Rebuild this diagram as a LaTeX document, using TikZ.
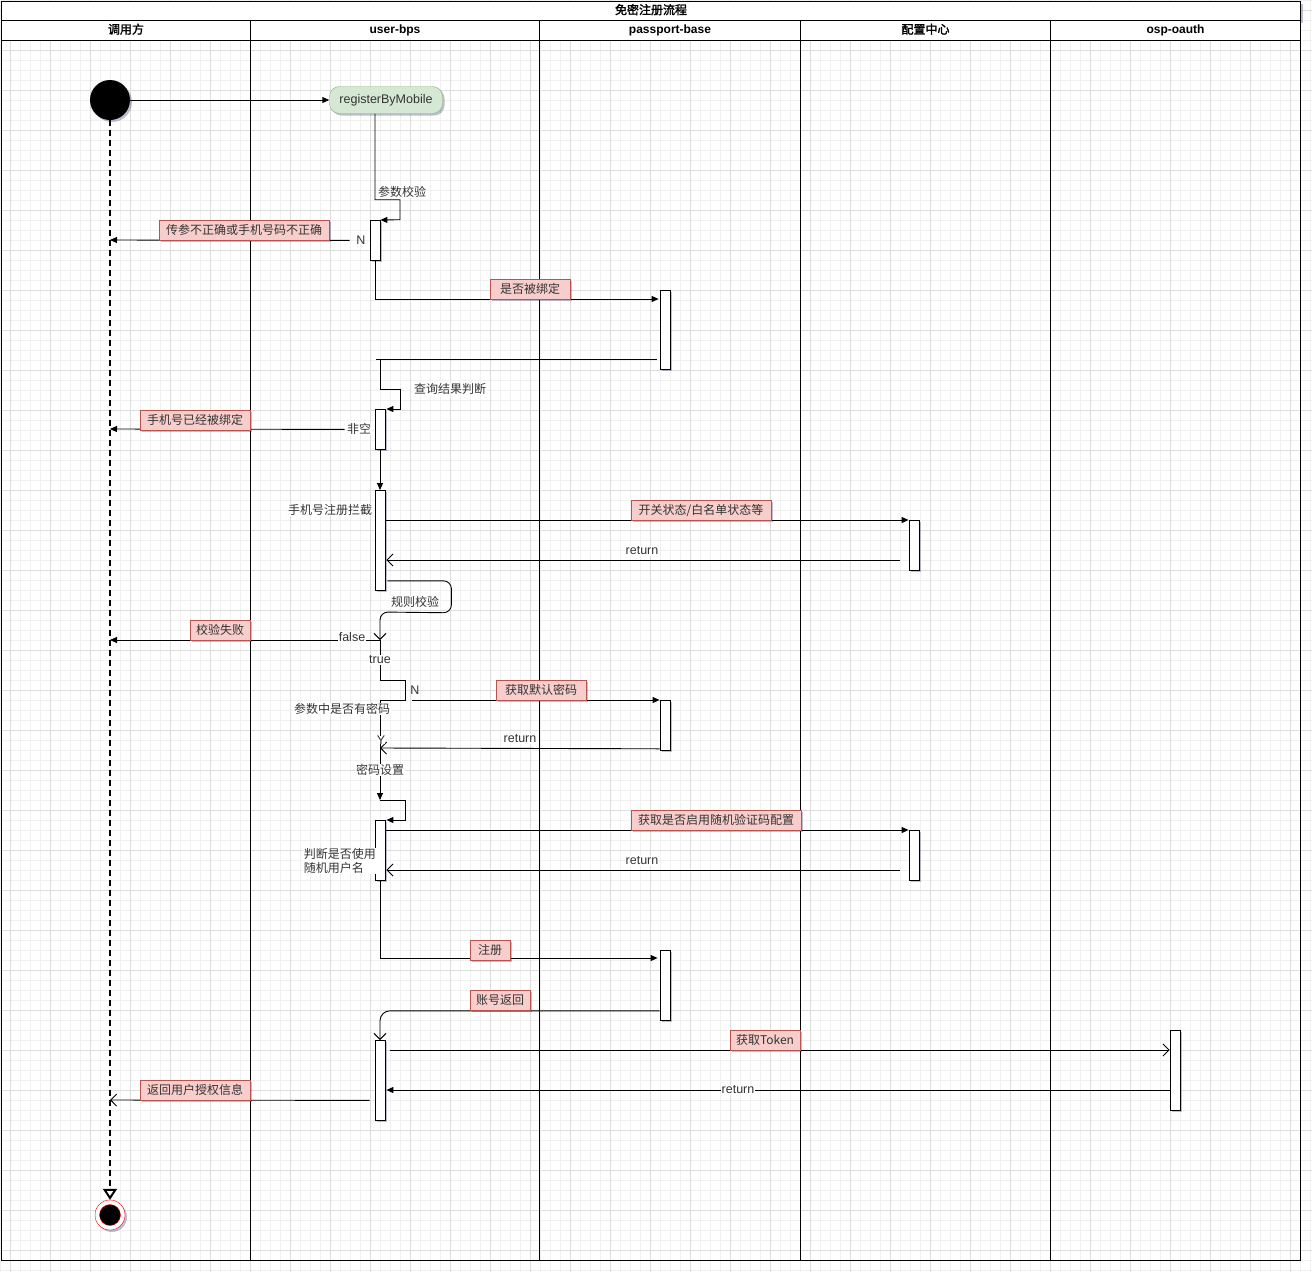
\documentclass[tikz,border=0pt]{standalone}
\usepackage{fontspec}
\setmainfont{Liberation Sans}
\newfontfamily\cjk{Noto Sans CJK SC}[AutoFakeBold=2]
\usepackage{tikz}
\usetikzlibrary{positioning,calc,arrows.meta,shadows}
\definecolor{GridMinor}{HTML}{F0F0F0}
\definecolor{GridMajor}{HTML}{DDDDDD}
\definecolor{ErrFill}{HTML}{F8CECC}
\definecolor{ErrLine}{HTML}{B85450}
\definecolor{OkFill}{HTML}{D5E8D4}
\definecolor{OkLine}{HTML}{82B366}
\definecolor{InkGray}{HTML}{333333}
\definecolor{EndRed}{HTML}{FF0000}
\tikzset{
  shd/.style={drop shadow={shadow xshift=2pt,shadow yshift=-2pt,opacity=0.25,fill=black!70!blue}},
  lane/.style={draw,line width=1pt,inner sep=0pt,anchor=north west},
  lanehd/.style={lane,fill=white,text height=9pt,text depth=2.5pt,font=\bfseries\fontsize{12}{14}\selectfont},
  act/.style={draw,fill=white,shd,minimum width=10pt,inner sep=0pt,line width=0.8pt,anchor=north},
  errbox/.style={draw=ErrLine,fill=ErrFill,shd,inner sep=0pt,minimum height=20pt,
    font=\cjk\fontsize{12}{14}\selectfont,text=InkGray},
  lbl/.style={fill=white,inner sep=0.6pt,font=\cjk\fontsize{12}{14}\selectfont,text=InkGray},
  lbla/.style={lbl,font=\fontsize{12.5}{14}\selectfont},
  msg/.style={-{Triangle[length=7pt,width=6pt]},line width=0.9pt},
  ret/.style={-{Straight Barb[length=6pt,width=12pt]},line width=0.9pt},
  life/.style={-{Triangle[open,length=11pt,width=14pt]},line width=2pt,dash pattern=on 6pt off 4pt},
}

\begin{document}
\begin{tikzpicture}[x=1pt,y=-1pt]
\useasboundingbox (0,0) rectangle (1312,1272);
% grid
\foreach \g in {0,10,...,1310} \draw[GridMinor,line width=0.6pt] (\g,0) -- (\g,1272);
\foreach \g in {0,10,...,1270} \draw[GridMinor,line width=0.6pt] (0,\g) -- (1312,\g);
\foreach \g in {10,50,...,1290} \draw[GridMajor,line width=0.8pt] (\g,0) -- (\g,1272);
\foreach \g in {10,50,...,1250} \draw[GridMajor,line width=0.8pt] (0,\g) -- (1312,\g);

% pool and lanes
\node[lanehd,shd,minimum width=1299pt,minimum height=19pt] (title) at (1,1) {\cjk\bfseries 免密注册流程};
\node[lanehd,minimum width=249pt,minimum height=20pt] (hcaller) at (1,20) {\cjk\bfseries 调用方};
\node[lanehd,minimum width=289pt,minimum height=20pt] (hbps) at (250,20) {user-bps};
\node[lanehd,minimum width=261pt,minimum height=20pt] (hpass) at (539,20) {passport-base};
\node[lanehd,minimum width=250pt,minimum height=20pt] (hcfg) at (800,20) {\cjk\bfseries 配置中心};
\node[lanehd,minimum width=250pt,minimum height=20pt] (hoauth) at (1050,20) {osp-oauth};
\node[lane,minimum width=249pt,minimum height=1220pt] (bcaller) at (1,40) {};
\node[lane,minimum width=289pt,minimum height=1220pt] (bbps) at (250,40) {};
\node[lane,minimum width=261pt,minimum height=1220pt] (bpass) at (539,40) {};
\node[lane,minimum width=250pt,minimum height=1220pt] (bcfg) at (800,40) {};
\node[lane,minimum width=250pt,minimum height=1220pt] (boauth) at (1050,40) {};

% start, end, entry
\node[circle,fill=black,minimum size=40pt,inner sep=0pt,shd] (start) at (110,100) {};
\node[circle,draw=EndRed,fill=white,minimum size=30pt,inner sep=0pt,shd] (stop) at (110,1215) {};
\node[circle,draw=EndRed,fill=black,minimum size=21pt,inner sep=0pt] (stopdot) at (stop) {};
\node[draw=OkLine,fill=OkFill,rounded corners=10pt,shd,minimum width=113pt,minimum height=27pt,
  inner sep=0pt,font=\fontsize{12.5}{14}\selectfont,text=InkGray] (reg) at (386,100) {registerByMobile};

% activations
\node[act,minimum height=40pt] (act1) at (375,220) {};
\node[act,minimum height=40pt] (act2) at (380,409) {};
\node[act,minimum height=100pt] (act3) at (380,490) {};
\node[act,minimum height=60pt] (act4) at (380,820) {};
\node[act,minimum height=80pt] (act5) at (380,1040) {};
\node[act,minimum height=79pt] (pb1) at (665,290) {};
\node[act,minimum height=50pt] (pb2) at (665,700) {};
\node[act,minimum height=70pt] (pb3) at (665,950) {};
\node[act,minimum height=50pt] (cfg1) at (914,520) {};
\node[act,minimum height=50pt] (cfg2) at (914,830) {};
\node[act,minimum height=80pt] (oa) at (1175,1030) {};

\coordinate (lf240) at (110,240);
\coordinate (lf429) at (110,429);
\coordinate (lf640) at (110,640);
\coordinate (lf1100) at (110,1100);
\coordinate (q1) at (376,359);
\coordinate (rule) at (380,640);
\coordinate (pwd) at (380,700);
\coordinate (pwdset) at (380,800);

% connectors
\draw[life] (start) -- (stop);
\draw[msg] (start) -- (reg);
\draw[msg] (reg.south -| act1) -- ++(0,86) -- ++(25,0) -- ++(0,20) -- (act1.north east);
\draw[msg] ($(act1.west)+(-20,0)$) -- (lf240);
\draw[msg] (act1.south) |- ($(pb1.north west)+(-1,9)$);
\draw[line width=0.9pt] ($(pb1.north west)+(-3,69)$) -- (q1);
\draw[msg] ($(q1)+(4,0)$) -- ++(0,30) -- ++(20,0) -- ++(0,20) -- ($(act2.north east)+(1,0)$);
\draw[msg] ($(act2.west)+(-30,0)$) -- (lf429);
\draw[msg] (act2) -- (act3);
\draw[msg] ($(act3.north east)+(0,30)$) -- (cfg1.north west);
\draw[ret] ($(cfg1.north west)+(-9,40)$) -- ($(act3.north east)+(1,70)$);
\draw[ret,rounded corners=8pt] ($(act3.south east)+(2,-10)$) -- ++(64,0) -- ++(0,32)
  -- ($(rule)+(0,-28)$) -- (rule);
\draw[msg] (rule) -- (lf640);
\draw[line width=0.9pt] (rule) -- ++(0,40) -- ++(25,0) -- ++(0,20) -- (pwd);
\draw[msg] ($(pwd)+(32,0)$) -- (pb2.north west);
\draw[ret] ($(pb2.south west)+(0,-2)$) -- ($(pwd)+(0,48)$);
\draw[msg] (pwd) -- (pwdset);
\draw[msg] (pwdset) -- ++(25,0) -- ++(0,20) -- ($(act4.north east)+(1,0)$);
\draw[msg] ($(act4.north east)+(0,10)$) -- (cfg2.north west);
\draw[ret] ($(cfg2.north west)+(-9,40)$) -- ($(act4.north east)+(1,50)$);
\draw[msg] (act4.south) |- ($(pb3.north west)+(-2,8)$);
\draw[ret,rounded corners=10pt] ($(pb3.south west)+(0,-10)$) -| (act5.north);
\draw[ret] ($(act5.north east)+(5,10)$) -- ($(oa.north west)+(0,20)$);
\draw[msg] ($(oa.north west)+(0,60)$) -- ($(act5.north east)+(1,50)$);
\draw[ret] ($(act5.west)+(-5,20)$) -- (lf1100);

% labels
\node[lbl] (lbcheck) at (402,192) {参数校验};
\node[lbla,fill=none] (lbn1) at (361,240) {N};
\node[lbl] (lbquery) at (450,389) {查询结果判断};
\node[lbl] (lbnonempty) at (359,429) {非空};
\node[lbl,anchor=east] (lbblock) at (373,510) {手机号注册拦截};
\node[lbla] (lbret1) at (642,551) {return};
\node[lbl] (lbrule) at (415,602) {规则校验};
\node[lbla] (lbfalse) at (352,637) {false};
\node[lbla] (lbtrue) at (380,660) {true};
\node[lbla,fill=none] (lbn2) at (415,690) {N};
\node[lbl] (lbhaspwd) at (342,709) {参数中是否有密码};
\node[lbla,inner sep=0pt] (lby) at (381,740) {Y};
\node[lbla] (lbret2) at (520,739) {return};
\node[lbl] (lbpwdset) at (380,770) {密码设置};
\node[lbl,anchor=west,align=left,font=\cjk\fontsize{12}{14.5}\selectfont] (lbrnd) at (303,861) {判断是否使用\\随机用户名};
\node[lbla] (lbret3) at (642,861) {return};
\node[lbla] (lbret4) at (738,1090) {return};

\node[errbox,minimum width=170pt] (err1) at (244,230) {传参不正确或手机号码不正确};
\node[errbox,minimum width=80pt] (bind) at (530,289) {是否被绑定};
\node[errbox,minimum width=110pt] (err2) at (195,420) {手机号已经被绑定};
\node[errbox,minimum width=140pt] (sw) at (701,510) {开关状态/白名单状态等};
\node[errbox,minimum width=60pt] (err3) at (220,630) {校验失败};
\node[errbox,minimum width=90pt] (getpwd) at (541,690) {获取默认密码};
\node[errbox,minimum width=170pt] (rndcfg) at (716,820) {获取是否启用随机验证码配置};
\node[errbox,minimum width=40pt] (signup) at (490,950) {注册};
\node[errbox,minimum width=60pt] (acct) at (500,1000) {账号返回};
\node[errbox,minimum width=70pt] (tok) at (765,1040) {获取Token};
\node[errbox,minimum width=110pt] (back) at (195,1090) {返回用户授权信息};
\end{tikzpicture}
\end{document}
